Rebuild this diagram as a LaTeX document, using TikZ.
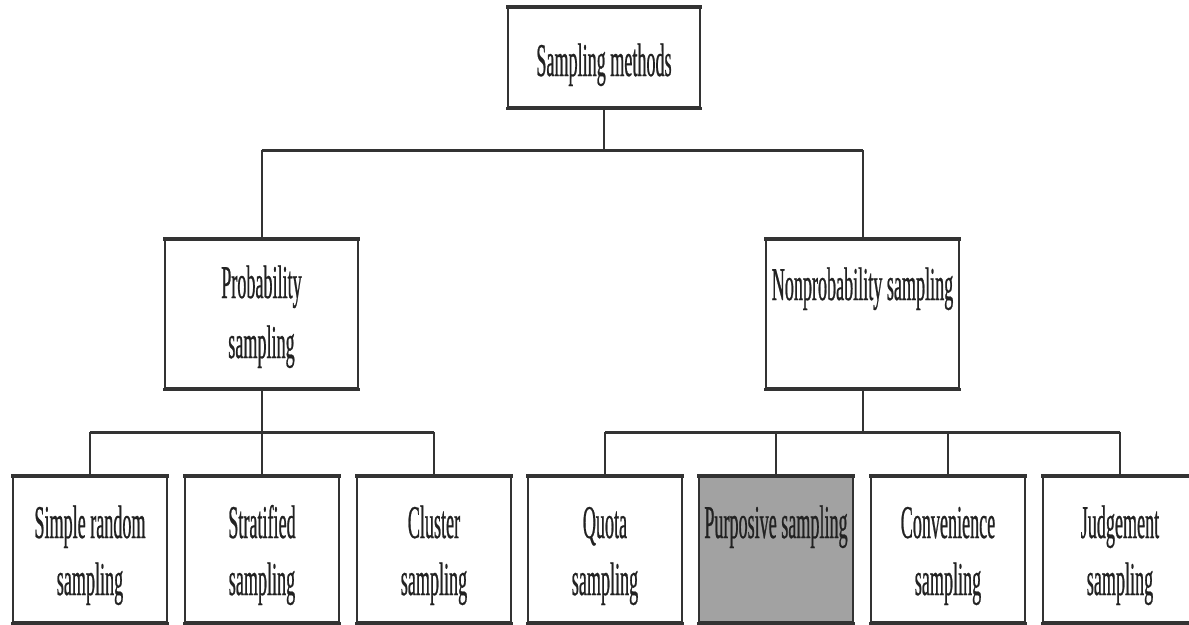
\documentclass[tikz,border=0pt]{standalone}
\usepackage{fontspec}
\setmainfont[FakeStretch=0.385, FakeBold=0.5]{Liberation Serif}
\usetikzlibrary{calc}
\definecolor{ink}{HTML}{333333}
\definecolor{txt}{HTML}{222222}
\definecolor{shade}{HTML}{A2A2A2}
\tikzset{
  box/.style={draw=ink, line width=2pt, rectangle, inner sep=0pt},
  topbox/.style={box, minimum width=192pt, minimum height=99pt},
  midbox/.style={box, minimum width=193pt, minimum height=148pt},
  leafbox/.style={box, minimum width=154pt, minimum height=145pt},
  lbl/.style={text=txt, font=\fontsize{47}{57}\selectfont, align=center, inner sep=0pt, anchor=base},
  vconn/.style={draw=ink, line width=2pt},
  hconn/.style={draw=ink, line width=3pt},
  edge/.style={draw=ink, line width=4pt},
}
\newcommand{\thickedges}[1]{%
  \draw[edge] ([xshift=-1pt]#1.north west) -- ([xshift=1pt]#1.north east);
  \draw[draw=ink, line width=3pt] ([xshift=-1pt]#1.south west) -- ([xshift=1pt]#1.south east);}
\begin{document}
\begin{tikzpicture}[x=1pt,y=-1pt]
\clip (0,0) rectangle (1189,624);
\fill[white] (0,0) rectangle (1189,624);

% boxes
\node[topbox] (top) at (604,57.5) {};
\node[midbox] (prob) at (261.5,314) {};
\node[midbox] (nonprob) at (862.5,314) {};
\node[leafbox] (b1) at (90,549.5) {};
\node[leafbox] (b2) at (262,549.5) {};
\node[leafbox] (b3) at (434,549.5) {};
\node[leafbox] (b4) at (605,549.5) {};
\node[leafbox, fill=shade] (b5) at (776,549.5) {};
\node[leafbox] (b6) at (948,549.5) {};
\node[leafbox] (b7) at (1120,549.5) {};
\foreach \b in {top,prob,nonprob,b1,b2,b3,b4,b5,b6,b7}{\thickedges{\b}}

% labels (base anchor = baseline of the last line)
\node[lbl] (ttop) at (604,76) {Sampling methods};
\node[lbl, font=\fontsize{47}{60}\selectfont] (tprob) at (261.5,358) {Probability\\sampling};
\node[lbl] (tnon) at (862.5,300) {Nonprobability sampling};
\node[lbl] (t1) at (90,595) {Simple random\\sampling};
\node[lbl] (t2) at (262,595) {Stratified\\sampling};
\node[lbl] (t3) at (434,595) {Cluster\\sampling};
\node[lbl] (t4) at (605,595) {Quota\\sampling};
\node[lbl] (t5) at (776,538) {Purposive sampling};
\node[lbl] (t6) at (948,595) {Convenience\\sampling};
\node[lbl] (t7) at (1120,595) {Judgement\\sampling};

% connectors
\coordinate (h1) at (0,150);
\coordinate (h2) at (0,432);
\draw[vconn] (top.south) -- (top.south |- h1);
\draw[hconn] (prob.north |- h1) -- (nonprob.north |- h1);
\draw[vconn] (prob.north |- h1) -- (prob.north);
\draw[vconn] (nonprob.north |- h1) -- (nonprob.north);

\draw[vconn] (prob.south) -- (prob.south |- h2);
\draw[hconn] (b1.north |- h2) -- (b3.north |- h2);
\foreach \b in {b1,b2,b3}{\draw[vconn] (\b.north |- h2) -- (\b.north);}

\draw[vconn] (nonprob.south) -- (nonprob.south |- h2);
\draw[hconn] (b4.north |- h2) -- (b7.north |- h2);
\foreach \b in {b4,b5,b6,b7}{\draw[vconn] (\b.north |- h2) -- (\b.north);}
\end{tikzpicture}
\end{document}
